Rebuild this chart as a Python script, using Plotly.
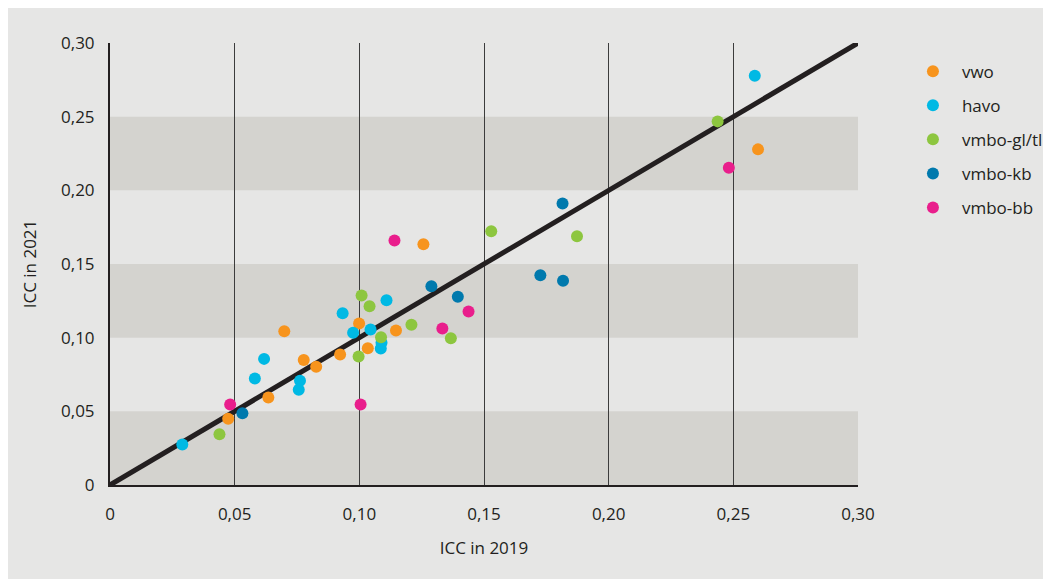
import plotly.graph_objects as go

# ---- data (ICC 2019 vs ICC 2021) ----
vwo_x = [0.0474, 0.0635, 0.0699, 0.0777, 0.0827, 0.0923, 0.0999, 0.1034, 0.1147, 0.1257, 0.2599]
vwo_y = [0.0449, 0.0594, 0.1043, 0.0849, 0.0802, 0.0885, 0.1096, 0.0928, 0.1048, 0.1634, 0.2278]

havo_x = [0.0290, 0.0581, 0.0618, 0.0762, 0.0757, 0.0933, 0.0975, 0.1045, 0.1109, 0.1089, 0.1086, 0.2586]
havo_y = [0.0275, 0.0723, 0.0856, 0.0707, 0.0646, 0.1166, 0.1033, 0.1055, 0.1254, 0.0965, 0.0926, 0.2778]

gltl_x = [0.0439, 0.1009, 0.1041, 0.1087, 0.0997, 0.1209, 0.1367, 0.1529, 0.1873, 0.2437]
gltl_y = [0.0345, 0.1286, 0.1213, 0.1003, 0.0872, 0.1087, 0.0996, 0.1722, 0.1688, 0.2468]

kb_x = [0.0531, 0.1289, 0.1395, 0.1726, 0.1817, 0.1815]
kb_y = [0.0487, 0.1349, 0.1277, 0.1423, 0.1387, 0.1910]

bb_x = [0.0482, 0.1141, 0.1005, 0.1333, 0.1438, 0.2482]
bb_y = [0.0546, 0.1659, 0.0546, 0.1062, 0.1177, 0.2154]

diag_x = [0, 0.30]
diag_y = [0, 0.30]

tick_vals = [0, 0.05, 0.10, 0.15, 0.20, 0.25, 0.30]
tick_text = ["0", "0,05", "0,10", "0,15", "0,20", "0,25", "0,30"]
band_ranges = [(0, 0.05), (0.10, 0.15), (0.20, 0.25)]

series = [
    ("vwo", vwo_x, vwo_y, "#f7941d"),
    ("havo", havo_x, havo_y, "#00b9e4"),
    ("vmbo-gl/tl", gltl_x, gltl_y, "#8dc63f"),
    ("vmbo-kb", kb_x, kb_y, "#0079ad"),
    ("vmbo-bb", bb_x, bb_y, "#e91e8c"),
]

PANEL = "#e6e6e5"
BAND = "#d4d3cf"
INK = "#231f20"
FONT = "Open Sans"

fig = go.Figure()
fig.add_trace(go.Scatter(x=diag_x, y=diag_y, mode="lines",
                         line=dict(color=INK, width=5), showlegend=False,
                         hoverinfo="skip"))
for name, xs, ys, col in series:
    fig.add_trace(go.Scatter(x=xs, y=ys, mode="markers", name=name,
                             legendgroup=name,
                             marker=dict(color=col, size=12, line=dict(width=0))))

shapes = []
for y0, y1 in band_ranges:
    shapes.append(dict(type="rect", xref="x", yref="y", x0=0, x1=0.30, y0=y0, y1=y1,
                       fillcolor=BAND, line=dict(width=0), layer="below"))

fig.update_layout(
    width=1051, height=579,
    margin=dict(l=102, r=200, t=35, b=102),
    paper_bgcolor=PANEL, plot_bgcolor=PANEL,
    font=dict(family=FONT, size=17, color=INK),
    shapes=shapes,
    showlegend=True,
    legend=dict(x=1.060, y=0.976, xanchor="left", yanchor="top",
                bgcolor="rgba(0,0,0,0)", tracegroupgap=9, itemwidth=48,
                font=dict(size=17, color=INK), itemsizing="constant"),
    xaxis=dict(range=[0, 0.30], tickvals=tick_vals, ticktext=tick_text,
               showgrid=True, gridcolor="#3c3c3c", gridwidth=1,
               zeroline=False, showline=True, linecolor=INK, linewidth=2,
               ticks="", ticklabelstandoff=13,
               title=dict(text="ICC in 2019", standoff=18, font=dict(size=17))),
    yaxis=dict(range=[0, 0.30], tickvals=tick_vals, ticktext=tick_text,
               showgrid=False, zeroline=False, showline=True, linecolor=INK, linewidth=2,
               ticks="", ticklabelstandoff=10,
               title=dict(text="ICC in 2021", standoff=20, font=dict(size=17))),
)

fig.write_html("out.html")
